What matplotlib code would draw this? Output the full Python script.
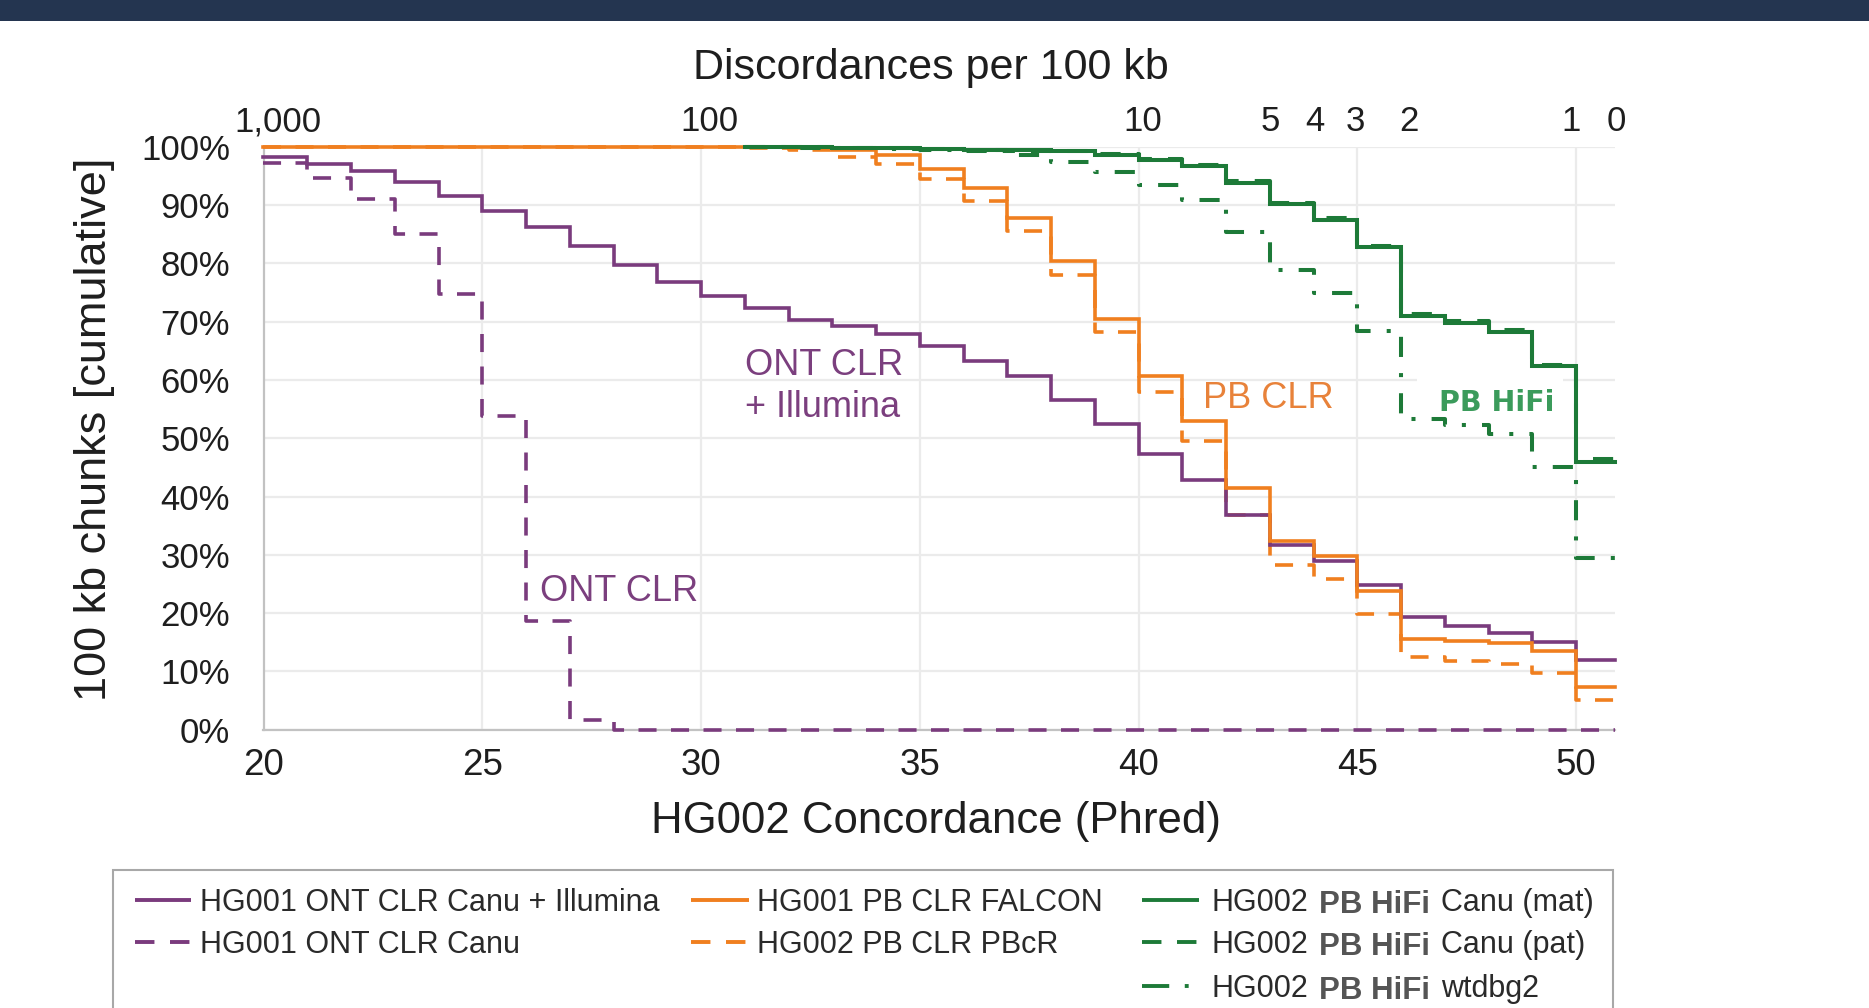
import numpy as np
import matplotlib
matplotlib.use('Agg')
import matplotlib.pyplot as plt
from matplotlib.patches import Rectangle
from matplotlib.transforms import blended_transform_factory

plt.rcParams['font.family'] = ['Liberation Sans', 'DejaVu Sans']

# ---------------- data ----------------
phred_bins = list(range(20, 51))      # left edge of each 1-Phred bin
phred_end = 50.9                      # right end of the last bin (axis end)

nan = np.nan
ont_canu_illumina = [98.3, 97.1, 95.8, 93.9, 91.6, 89.0, 86.2, 83.0, 79.7, 76.8,
                     74.4, 72.4, 70.3, 69.2, 67.9, 65.8, 63.3, 60.7, 56.6, 52.5,
                     47.3, 42.9, 36.8, 31.6, 28.9, 24.8, 19.4, 17.8, 16.6, 15.1, 12.0]
ont_canu = [97.2, 94.7, 91.1, 85.0, 74.7, 53.8, 18.6, 1.7, 0, 0,
            0, 0, 0, 0, 0, 0, 0, 0, 0, 0,
            0, 0, 0, 0, 0, 0, 0, 0, 0, 0, 0]
pb_clr_falcon = [100, 100, 100, 100, 100, 100, 100, 100, 100, 100,
                 100, 99.9, 99.8, 99.4, 98.6, 96.2, 93.0, 87.8, 80.4, 70.5,
                 60.6, 53.0, 41.4, 32.4, 29.8, 23.8, 15.6, 15.3, 14.9, 13.5, 7.4]
pb_clr_pbcr = [100, 100, 100, 100, 100, 100, 100, 100, 100, 100,
               100, 99.8, 99.4, 98.3, 97.0, 94.4, 90.7, 85.5, 78.0, 68.2,
               58.0, 49.6, 36.8, 28.2, 25.8, 19.9, 12.4, 11.8, 11.3, 9.8, 5.1]
hifi_canu_mat = [nan, nan, nan, nan, nan, nan, nan, nan, nan, nan,
                 nan, 99.9, 99.9, 99.8, 99.7, 99.6, 99.5, 99.4, 99.3, 98.6,
                 97.8, 96.7, 93.8, 90.2, 87.5, 82.8, 71.0, 69.8, 68.3, 62.3, 46.0]
hifi_canu_pat = [nan, nan, nan, nan, nan, nan, nan, nan, nan, nan,
                 nan, 99.9, 99.9, 99.8, 99.7, 99.6, 99.5, 99.3, 99.2, 98.7,
                 97.9, 96.8, 94.1, 90.4, 87.8, 82.9, 71.3, 70.1, 68.6, 62.5, 46.4]
hifi_wtdbg2 = [nan, nan, nan, nan, nan, nan, nan, nan, nan, nan,
               nan, 99.9, 99.8, 99.7, 99.6, 99.5, 99.2, 98.6, 97.4, 95.7,
               93.4, 90.9, 85.4, 78.9, 74.9, 68.4, 53.3, 52.2, 50.8, 45.0, 29.5]

y_ticks = [0, 10, 20, 30, 40, 50, 60, 70, 80, 90, 100]
x_ticks = [20, 25, 30, 35, 40, 45, 50]
top_tick_pos = [20.34, 30.2, 40.09, 43.02, 44.03, 44.96, 46.18, 49.89, 50.92]
top_tick_labels = ['1,000', '100', '10', '5', '4', '3', '2', '1', '0']

# ---------------- style ----------------
PURPLE = '#7A3B7D'
ORANGE = '#F07F1F'
GREEN = '#1D7A38'
GREEN_TXT = '#3B9B5B'
GRID = '#EBEBEB'
SPINE = '#C2C2C2'
TXT = '#1E1E1E'

W, H = 1869, 1008
fig = plt.figure(figsize=(W / 100, H / 100), dpi=100)
fig.patch.set_facecolor('white')

ax_l, ax_r, ax_t, ax_b = 263.5, 1615.4, 146.7, 729.7
ax = fig.add_axes([ax_l / W, (H - ax_b) / H, (ax_r - ax_l) / W, (ax_b - ax_t) / H])
ax.set_xlim(20, phred_end)
ax.set_ylim(0, 100)

def step_line(vals, **kw):
    xs = phred_bins + [phred_end]
    ys = list(vals) + [vals[-1]]
    ax.step(xs, ys, where='post', clip_on=False, solid_joinstyle='miter', **kw)

LW = 2.6
step_line(ont_canu, color=PURPLE, lw=LW, dashes=(5, 4), zorder=3.0)
step_line(pb_clr_pbcr, color=ORANGE, lw=LW, dashes=(5, 4), zorder=3.1)
step_line(ont_canu_illumina, color=PURPLE, lw=LW, zorder=3.2)
step_line(pb_clr_falcon, color=ORANGE, lw=LW, zorder=3.3)
step_line(hifi_wtdbg2, color=GREEN, lw=2.9, dashes=(5, 4, 1, 4), zorder=3.4)
step_line(hifi_canu_mat, color=GREEN, lw=2.9, zorder=3.5)
step_line(hifi_canu_pat, color=GREEN, lw=2.9, dashes=(5, 4), zorder=3.6)

# grid & spines
ax.set_xticks(x_ticks)
ax.set_yticks(y_ticks)
ax.set_yticklabels([f'{v}%' for v in y_ticks])
ax.grid(True, color=GRID, lw=1.6, zorder=0)
ax.set_axisbelow(True)
for s in ['top', 'right']:
    ax.spines[s].set_visible(False)
for s in ['left', 'bottom']:
    ax.spines[s].set_color(SPINE)
    ax.spines[s].set_linewidth(1.6)
ax.tick_params(axis='x', length=0, pad=13, labelsize=26.5, labelcolor=TXT)
ax.tick_params(axis='y', length=0, pad=24, labelsize=25, labelcolor=TXT)

# axis labels
ax.set_xlabel('HG002 Concordance (Phred)', fontsize=31.5, color=TXT, va='baseline')
ax.xaxis.set_label_coords((936 - ax_l) / (ax_r - ax_l), (ax_b - 833) / (ax_b - ax_t))
ax.set_ylabel('100 kb chunks [cumulative]', fontsize=32.5, color=TXT, va='center')
ax.yaxis.set_label_coords((95 - ax_l) / (ax_r - ax_l), (ax_b - 429) / (ax_b - ax_t))

# top axis (discordances)
trans_top = blended_transform_factory(ax.transData, ax.transAxes)
for pos, lab in zip(top_tick_pos, top_tick_labels):
    ax.text(pos, (ax_b - 131) / (ax_b - ax_t), lab, transform=trans_top,
            ha='center', va='baseline', fontsize=25, color=TXT, clip_on=False)
ax.text((931 - ax_l) / (ax_r - ax_l), (ax_b - 78.7) / (ax_b - ax_t),
        'Discordances per 100 kb', transform=ax.transAxes, ha='center',
        va='baseline', fontsize=31, color=TXT)

# in-plot annotations
ax.text(31.0, 60.8, 'ONT CLR', color='#7B3F7E', fontsize=26, va='baseline', ha='left', zorder=5)
ax.text(31.0, 53.6, '+ Illumina', color='#7B3F7E', fontsize=26, va='baseline', ha='left', zorder=5)
ax.text(26.32, 22.0, 'ONT CLR', color='#7B3F7E', fontsize=26, va='baseline', ha='left', zorder=5)
ax.text(41.47, 55.2, 'PB CLR', color='#E8823A', fontsize=26, va='baseline', ha='left', zorder=5)
ax.add_patch(Rectangle((46.36, 53.8), 3.34, 7.4, facecolor='white', edgecolor='none', zorder=4))
ax.text(46.87, 54.7, 'PB HiFi', color=GREEN_TXT, fontsize=20.5, fontweight='bold',
        family='DejaVu Sans', va='baseline', ha='left', zorder=5)

# ---------------- overlay (header band and legend) ----------------
ov = fig.add_axes([0, 0, 1, 1], zorder=10)
ov.set_xlim(0, W)
ov.set_ylim(H, 0)
ov.axis('off')
ov.patch.set_alpha(0)

ov.add_patch(Rectangle((0, 0), W, 20.7, facecolor='#243550', edgecolor='none'))
ov.add_patch(Rectangle((113, 870), 1500, 200, facecolor='white', edgecolor='#A8A8A8', lw=1.5))

rows_y = [900, 942, 986]
legend_entries = [
    (135, 191, 200, rows_y[0], PURPLE, None, 'HG001 ONT CLR Canu + Illumina'),
    (135, 191, 200, rows_y[1], PURPLE, (5, 4), 'HG001 ONT CLR Canu'),
    (691, 749, 757, rows_y[0], ORANGE, None, 'HG001 PB CLR FALCON'),
    (691, 749, 757, rows_y[1], ORANGE, (5, 4), 'HG002 PB CLR PBcR'),
]
for x0, x1, xt, yy, col, dsh, lab in legend_entries:
    kw = dict(color=col, lw=2.8, solid_capstyle='butt', dash_capstyle='butt')
    if dsh:
        kw['dashes'] = dsh
    ov.plot([x0, x1], [yy, yy], **kw)
    ov.text(xt, yy + 11, lab, fontsize=22, color='#2A2A2A', va='baseline', ha='left')

hifi_entries = [
    (rows_y[0], None, 'Canu (mat)'),
    (rows_y[1], (5, 4), 'Canu (pat)'),
    (rows_y[2], (7, 4, 1, 4), 'wtdbg2'),
]
for yy, dsh, tail in hifi_entries:
    kw = dict(color=GREEN, lw=2.8, solid_capstyle='butt', dash_capstyle='butt')
    if dsh:
        kw['dashes'] = dsh
    ov.plot([1142, 1199], [yy, yy], **kw)
    ov.text(1211, yy + 11, 'HG002', fontsize=22, color='#2A2A2A', va='baseline', ha='left')
    ov.text(1319, yy + 13, 'PB HiFi', fontsize=22.5, fontweight='bold', color='#555555',
            va='baseline', ha='left')
    ov.text(1441, yy + 11, tail, fontsize=22, color='#2A2A2A', va='baseline', ha='left')

fig.savefig('out.png', dpi=100, facecolor='white')
